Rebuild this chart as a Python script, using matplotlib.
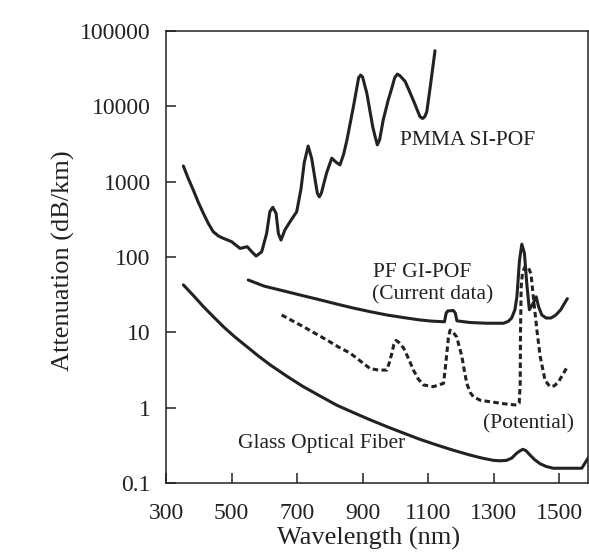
import matplotlib
matplotlib.use("Agg")
import matplotlib.pyplot as plt

# ---- data ----
pmma_wl = [353, 368, 383, 398, 414, 429, 444, 460, 475, 500, 526, 548, 562, 575, 592, 607, 617, 626, 636, 643, 651, 663, 679,
           699, 712, 722, 734, 745, 756, 762, 768, 774, 790, 806, 820, 831, 842, 852, 872, 888, 894, 900,
           913, 931, 938, 945, 952, 963, 978, 989, 998, 1006, 1014, 1030, 1055, 1075, 1083, 1090, 1096, 1108, 1121]
pmma_att = [1615, 1100, 780, 540, 380, 280, 217, 190, 177, 160, 130, 137, 117, 103, 117, 204, 400, 457, 380, 205, 168, 229, 296,
            400, 800, 1800, 2970, 2000, 1000, 700, 630, 700, 1300, 2050, 1800, 1670, 2300, 3530, 9900, 24000, 26000, 24500,
            14900, 5350, 4000, 3080, 3600, 6600, 12000, 17300, 24000, 26800, 25500, 21400, 12000, 7300, 6900, 7300, 8500, 20300, 54700]

cur_wl = [551, 600, 668, 720, 770, 820, 872, 923, 974, 1025, 1075, 1110, 1150, 1155, 1160, 1177, 1183, 1188, 1228, 1280,
          1330, 1345, 1355, 1365, 1371, 1379, 1386, 1394, 1401, 1409, 1420, 1430, 1437, 1447, 1460, 1475, 1490, 1505, 1518, 1525]
cur_att = [49.5, 41, 34.7, 30.5, 27, 23.8, 21, 18.8, 17, 15.7, 14.6, 14.1, 13.8, 18, 19.2, 19.5, 18, 14.2, 13.5, 13.2,
           13.2, 14, 15.5, 20, 29.6, 91, 148, 112, 45, 20, 24, 29.6, 22, 17, 15.5, 15.5, 17, 20, 25, 28]

pot_wl = [653, 686, 719, 755, 791, 826, 862, 895, 923, 950, 974, 982, 989, 995, 1002, 1010, 1025, 1040, 1055, 1070, 1086,
          1116, 1147, 1152, 1157, 1162, 1167, 1175, 1187, 1195, 1203, 1210, 1218, 1228, 1238, 1260, 1289, 1330, 1371,
          1378, 1381, 1382, 1384, 1388, 1396, 1406, 1414, 1421, 1432, 1442, 1457, 1472, 1485, 1498, 1525]
pot_att = [17, 14.2, 11.9, 9.7, 7.9, 6.4, 5.3, 4.1, 3.3, 3.15, 3.16, 4.0, 5.2, 6.8, 7.8, 7.4, 6.2, 4.5, 3.16, 2.4, 2.0,
           1.9, 2.1, 3.2, 5.2, 8.5, 10.7, 10.2, 8.7, 6.5, 4.8, 3.2, 2.1, 1.6, 1.4, 1.25, 1.2, 1.13, 1.08,
           1.15, 2.0, 10, 40, 62, 75, 72, 60, 30, 10.7, 4.8, 2.3, 1.9, 1.95, 2.2, 3.5]

glass_wl = [353, 383, 414, 444, 475, 510, 546, 582, 618, 668, 719, 770, 821, 872, 923, 974, 1025, 1075, 1126, 1177,
            1228, 1265, 1299, 1320, 1340, 1355, 1371, 1380, 1389, 1398, 1411, 1425, 1442, 1460, 1482, 1520, 1569, 1584, 1590]
glass_att = [42.6, 31, 22, 16.2, 11.9, 8.7, 6.5, 4.85, 3.7, 2.63, 1.9, 1.43, 1.08, 0.86, 0.69, 0.56, 0.46, 0.38, 0.32, 0.272,
             0.235, 0.214, 0.20, 0.197, 0.20, 0.214, 0.25, 0.266, 0.28, 0.27, 0.235, 0.204, 0.18, 0.166, 0.157, 0.157, 0.157, 0.20, 0.22]

x_ticks = [300, 500, 700, 900, 1100, 1300, 1500]
y_ticks = [0.1, 1, 10, 100, 1000, 10000, 100000]
y_tick_labels = ["0.1", "1", "10", "100", "1000", "10000", "100000"]

labels = ["PMMA SI-POF", "PF GI-POF", "(Current data)", "(Potential)", "Glass Optical Fiber"]
label_wl = [1014, 932, 929, 1268, 520]
label_att = [3470, 63, 31.3, 0.607, 0.339]

# ---- figure ----
plt.rcParams['font.family'] = ['Liberation Serif', 'DejaVu Serif']
ink = '#222222'

fig = plt.figure(figsize=(5.89, 5.56), dpi=100)
ax = fig.add_axes([166/589, 1-483/556, (588-166)/589, (483-31)/556])

lw = 2.2
ax.plot(pmma_wl, pmma_att, color=ink, lw=lw, solid_capstyle='round', solid_joinstyle='round')
ax.plot(cur_wl, cur_att, color=ink, lw=lw, solid_capstyle='round', solid_joinstyle='round')
ax.plot(pot_wl, pot_att, color=ink, lw=lw, linestyle=(0, (1.8, 1.1)))
ax.plot(glass_wl, glass_att, color=ink, lw=lw, solid_capstyle='round', solid_joinstyle='round')

for t, xw, ya in zip(labels, label_wl, label_att):
    ax.text(xw, ya, t, fontsize=15.5, color=ink, ha='left', va='center')

ax.set_yscale('log')
ax.set_xlim(300, 1588)
ax.set_ylim(0.1, 100000)
ax.set_xticks(x_ticks)
ax.set_xticklabels([str(v) for v in x_ticks])
ax.set_yticks(y_ticks)
ax.set_yticklabels(y_tick_labels)
ax.minorticks_off()
ax.tick_params(direction='in', length=7, width=1.1, labelsize=17, colors=ink)
ax.tick_params(axis='y', pad=11)
ax.tick_params(axis='x', pad=14.5)
for s in ax.spines.values():
    s.set_linewidth(1.1)
    s.set_color(ink)

ax.set_xlabel("Wavelength (nm)", fontsize=19, color=ink)
ax.set_ylabel("Attenuation (dB/km)", fontsize=19, color=ink)
ax.xaxis.set_label_coords(0.479, -0.097)
ax.yaxis.set_label_coords(-0.215, 0.491)

fig.savefig("out.png", dpi=100)
